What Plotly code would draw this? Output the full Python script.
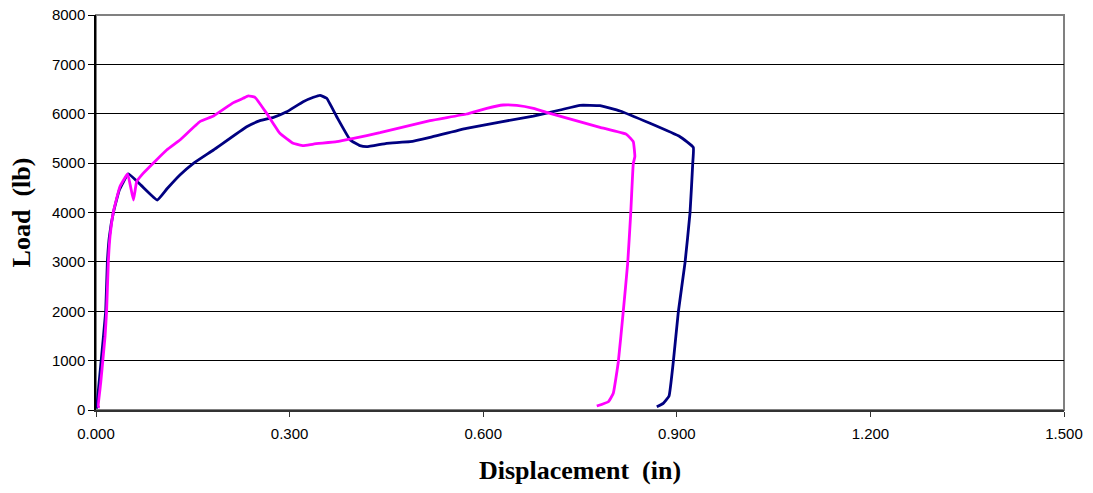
import plotly.graph_objects as go

# Series 1 (navy)
disp_1 = [0.001, 0.008, 0.015, 0.0176, 0.0207, 0.027, 0.036, 0.050, 0.070, 0.095, 0.110, 0.130,
          0.151, 0.182, 0.2335, 0.254, 0.275, 0.2955, 0.321, 0.337, 0.347, 0.3575, 0.373, 0.394,
          0.409, 0.4195, 0.4505, 0.4866, 0.5176, 0.574, 0.6777, 0.719, 0.750, 0.781, 0.812,
          0.8585, 0.905, 0.9256, 0.9247, 0.9205, 0.9128, 0.9024, 0.8946, 0.888, 0.879, 0.869]
load_1 = [30, 1000, 1991, 2991, 3510, 4004, 4450, 4780, 4550, 4253, 4480, 4760,
          4996, 5266, 5738, 5860, 5928, 6041, 6244, 6333, 6373, 6313, 5940, 5468,
          5354, 5333, 5401, 5434, 5523, 5705, 5954, 6076, 6171, 6163, 6056,
          5806, 5535, 5320, 4996, 3996, 2991, 1991, 978, 284, 135, 67]

# Series 2 (magenta)
disp_2 = [0.006, 0.0036, 0.0072, 0.014, 0.0165, 0.019, 0.0217, 0.027, 0.037, 0.049, 0.058,
          0.063, 0.073, 0.1095, 0.130, 0.161, 0.182, 0.213, 0.228, 0.236, 0.2464, 0.2645,
          0.285, 0.3057, 0.321, 0.337, 0.373, 0.399, 0.440, 0.5176, 0.574, 0.6055, 0.631,
          0.652, 0.678, 0.7035, 0.781, 0.822, 0.8326, 0.835, 0.8326, 0.8286, 0.824, 0.817,
          0.8094, 0.8016, 0.794, 0.776]
load_2 = [60, 67, 540, 1485, 2025, 2970, 3510, 4017, 4523, 4780, 4253,
          4624, 4793, 5266, 5468, 5840, 5954, 6225, 6313, 6360, 6333, 6008,
          5604, 5401, 5354, 5387, 5434, 5502, 5616, 5860, 5995, 6110, 6177,
          6171, 6110, 6008, 5725, 5583, 5434, 5130, 4996, 3983, 2991, 1991,
          978, 338, 168, 81]

x_ticks = [0.0, 0.3, 0.6, 0.9, 1.2, 1.5]
y_ticks = [0, 1000, 2000, 3000, 4000, 5000, 6000, 7000, 8000]

fig = go.Figure()
fig.add_trace(go.Scatter(x=disp_1, y=load_1, mode="lines",
                         line=dict(color="#000080", width=2.8, shape="spline", smoothing=0.3),
                         showlegend=False))
fig.add_trace(go.Scatter(x=disp_2, y=load_2, mode="lines",
                         line=dict(color="#FF00FF", width=2.8, shape="spline", smoothing=0.3),
                         showlegend=False))

# gray plot-area border (top and right)
fig.add_shape(type="rect", xref="x domain", yref="y domain", x0=0, x1=1, y0=0, y1=1,
              line=dict(color="#808080", width=2), layer="below")

fig.update_layout(
    width=1093, height=493,
    margin=dict(l=96, r=29, t=15, b=83),
    paper_bgcolor="white", plot_bgcolor="white",
    font=dict(family="Liberation Sans, Arial", size=15, color="black"),
)
fig.update_xaxes(
    range=[0, 1.5], tickvals=x_ticks, tickformat=".3f", automargin=False,
    showgrid=False, zeroline=False,
    showline=True, linecolor="#333333", linewidth=2,
    ticks="outside", ticklen=5, tickcolor="#333333", tickwidth=1,
    ticklabelstandoff=4,
    tickfont=dict(size=15),
    title=dict(text="<b>Displacement\u00a0 (in)</b>",
               font=dict(family="Liberation Serif, Times New Roman", size=26), standoff=20),
)
fig.update_yaxes(
    range=[0, 8000], tickvals=y_ticks, automargin=False,
    showgrid=True, gridcolor="black", gridwidth=1, zeroline=False,
    showline=True, linecolor="black", linewidth=1.5,
    ticks="outside", ticklen=6, tickcolor="black", tickwidth=1,
    tickfont=dict(size=15),
    title=dict(text="<b>Load\u00a0 (lb)</b>",
               font=dict(family="Liberation Serif, Times New Roman", size=26), standoff=14),
)

fig.write_html("out.html", config={"displayModeBar": False},
               post_script="document.body.style.margin='0';")
